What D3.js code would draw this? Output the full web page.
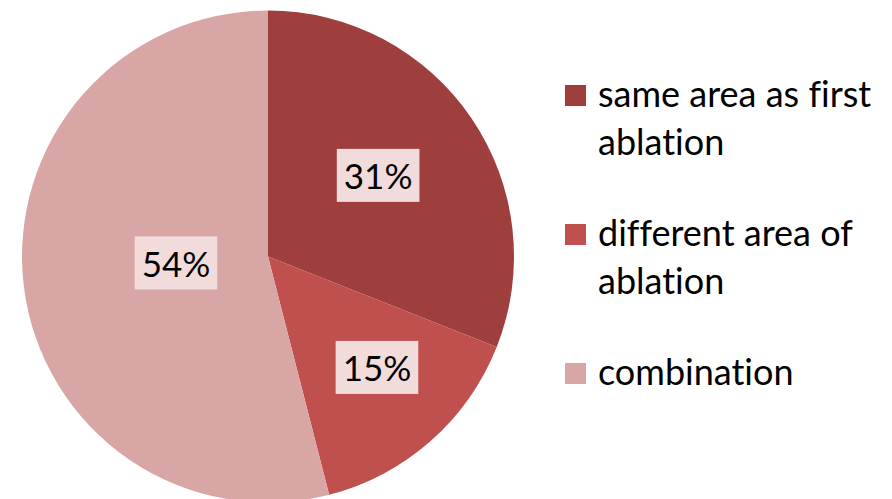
<!DOCTYPE html>
<html>
<head>
<meta charset="utf-8">
<script src="https://cdn.jsdelivr.net/npm/d3@7/dist/d3.min.js"></script>
<style>
  html, body { margin: 0; padding: 0; background: #fff; }
  svg { display: block; }
  text { font-family: Lato, "Open Sans", sans-serif; fill: #000; font-variant-ligatures: none; font-feature-settings: "liga" 0, "clig" 0; }
</style>
</head>
<body>
<svg id="chart" width="892" height="499"></svg>
<script>
// ---- data ----
const categories = ["same area as first ablation", "different area of ablation", "combination"];
const legendLines = [["same area as first", "ablation"], ["different area of", "ablation"], ["combination"]];
const values = [31, 15, 54];
const labels = ["31%", "15%", "54%"];
const colors = ["#9f3f3d", "#c0504d", "#d9a6a6"];

// ---- layout ----
const W = 892, H = 499;
const cx = 268, cy = 256.5, R = 246;
const labelPlacement = [ // radius fraction, angle offset (rad) from slice mid
  {rf: 0.556, da: -0.038},
  {rf: 0.632, da: -0.054},
  {rf: 0.375, da: 0.056}
];

const svg = d3.select("#chart");
const pie = d3.pie().sort(null).value(d => d)(values);
const arc = d3.arc().innerRadius(0).outerRadius(R);

const g = svg.append("g").attr("transform", `translate(${cx},${cy})`);
g.selectAll("path.slice").data(pie).join("path")
  .attr("class", "slice")
  .attr("d", arc)
  .attr("fill", (d, i) => colors[i]);

// data labels with boxes
const lblFont = 35;
pie.forEach((d, i) => {
  const p = labelPlacement[i];
  const a = (d.startAngle + d.endAngle) / 2 + p.da;
  const x = Math.sin(a) * R * p.rf;
  const y = -Math.cos(a) * R * p.rf;
  const lg = g.append("g").attr("transform", `translate(${x},${y})`);
  const rect = lg.append("rect").attr("fill", "#f2dcdb");
  const t = lg.append("text")
    .attr("text-anchor", "middle")
    .attr("x", 0).attr("y", 14)
    .style("font-size", lblFont + "px")
    .text(labels[i]);
  const w = t.node().getComputedTextLength();
  rect.attr("x", -w / 2 - 7).attr("y", -26.5).attr("width", w + 14).attr("height", 53);
});

// legend
const legX = 565, sq = 21, textX = 598;
const firstBaselines = [107, 246, 385];
const lineH = 48;
const legFont = 36;
const leg = svg.append("g");
categories.forEach((c, i) => {
  const b = firstBaselines[i];
  leg.append("rect")
    .attr("x", legX).attr("y", b - sq - 1)
    .attr("width", sq).attr("height", sq)
    .attr("fill", colors[i]);
  const t = leg.append("text").attr("x", textX).attr("y", b).style("font-size", legFont + "px");
  legendLines[i].forEach((ln, j) => {
    t.append("tspan").attr("x", textX).attr("y", b + j * lineH).text(ln);
  });
});
</script>
</body>
</html>
